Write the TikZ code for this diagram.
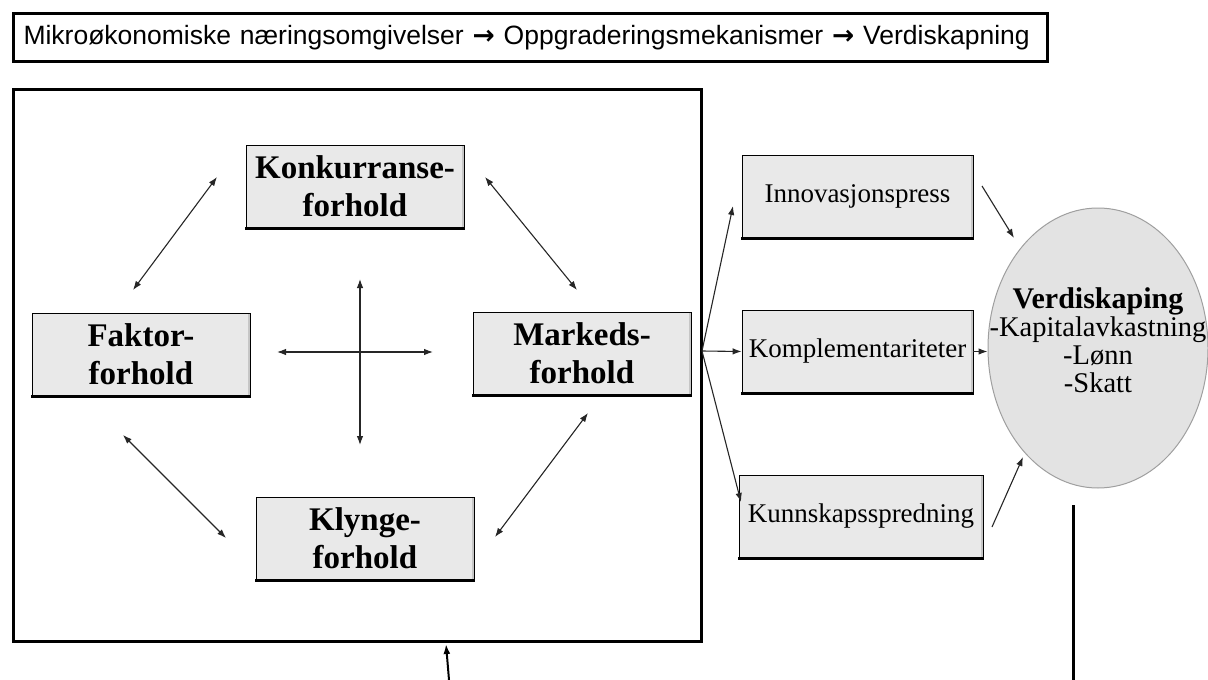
\documentclass[tikz,border=0pt]{standalone}
\usepackage{fontspec}
\setmainfont{Liberation Serif}
\newfontfamily\titlefont{Liberation Sans}
\newfontfamily\arrowfont{DejaVu Sans}
\usetikzlibrary{arrows.meta,shapes.geometric}

\newcommand{\headarrow}{{\arrowfont\bfseries →}}

\tikzset{
  bigbox/.style={draw=black, line width=0.8pt, fill=gray!17, minimum width=218pt,
    minimum height=83pt, align=center, inner sep=0pt,
    font=\fontsize{33}{38}\selectfont\bfseries},
  smallbox/.style={draw=black, line width=0.8pt, fill=gray!17, minimum width=231pt,
    minimum height=83pt, align=center, inner sep=0pt,
    font=\fontsize{27}{30}\selectfont},
  frame/.style={draw=black, line width=3pt, inner sep=0pt},
  link/.style={draw=black!85, line width=1.1pt,
    {Latex[length=9pt,width=6.5pt]}-{Latex[length=9pt,width=6.5pt]}},
  feed/.style={draw=black!85, line width=1.1pt, -{Latex[length=9pt,width=6.5pt]}},
  shadowline/.style={line width=2.6pt, black},
  rimline/.style={line width=2.5pt, gray!45}
}

\begin{document}
\begin{tikzpicture}[x=1pt, y=-1pt]
\useasboundingbox (0,0) rectangle (1208,680);

% heading strip
\node (title) [frame, minimum width=1034pt, minimum height=48pt, anchor=north west,
  text width=1014pt, align=left, font=\titlefont\fontsize{26.5}{28}\selectfont]
  at (12,12) {Mikroøkonomiske næringsomgivelser \headarrow{} Oppgraderingsmekanismer \headarrow{} Verdiskapning};

% outer frame around the four conditions
\node (main) [frame, minimum width=688pt, minimum height=552pt, anchor=north west] at (12,88) {};

% the four conditions
\node (konk)   [bigbox] at (355,186.5) {Konkurranse-\\forhold};
\node (faktor) [bigbox] at (141,354.5) {Faktor-\\forhold};
\node (marked) [bigbox] at (582,353.5) {Markeds-\\forhold};
\node (klynge) [bigbox] at (365,538.5) {Klynge-\\forhold};

% upgrading mechanisms
\node (innov) [smallbox] at (857.5,196.5) {Innovasjonspress};
\node (kompl) [smallbox] at (857.5,351.5) {Komplementariteter};
\node (kunn)  [smallbox, minimum width=244pt] at (861,516.5) {Kunnskapsspredning};

% heavy lower edge and soft right rim on each box
\foreach \b in {konk,faktor,marked,klynge,innov,kompl,kunn}{
  \draw[rimline] ([xshift=-1.6pt,yshift=-1pt]\b.north east) -- ([xshift=-1.6pt,yshift=1pt]\b.south east);
  \draw[shadowline] ([xshift=-0.4pt]\b.south west) -- ([xshift=0.4pt]\b.south east);
}

% value creation
\node (verdi) [ellipse, draw=gray!75, line width=1pt, fill=gray!22,
  minimum width=220pt, minimum height=280pt, inner sep=0pt] at (1098,348) {};
\node (verditext) [align=center, inner sep=0pt, font=\fontsize{28.5}{28}\selectfont] at (1098,340)
  {{\fontsize{30}{28}\selectfont\bfseries Verdiskaping}\\-Kapitalavkastning\\-Lønn\\-Skatt};

% end points of the links inside the frame
\coordinate (k1) at (217,177);  \coordinate (f1) at (133,290);
\coordinate (k2) at (485,177);  \coordinate (m1) at (577,290);
\coordinate (f2) at (123,435);  \coordinate (l1) at (226,538);
\coordinate (m2) at (588,413);  \coordinate (l2) at (495,537);
\coordinate (cl) at (277,352);  \coordinate (cr) at (433,352);
\coordinate (ct) at (360,279);  \coordinate (cb) at (360,445);

\draw[link] (k1) -- (f1);
\draw[link] (k2) -- (m1);
\draw[link] (f2) -- (l1);
\draw[link] (m2) -- (l2);
\draw[link] (cl) -- (cr);
\draw[link] (ct) -- (cb);

% fan from the frame to the mechanisms
\coordinate (fan) at (702,351);
\coordinate (tinnov) at (733,206);
\coordinate (tkunn) at (741,502);
\draw[feed] (fan) -- (tinnov);
\draw[feed] (fan) -- (kompl.west);
\draw[feed] (fan) -- (tkunn);

% mechanisms into value creation
\coordinate (sinnov) at (982,186);  \coordinate (einnov) at (1014,238);
\coordinate (skunn) at (992,527);   \coordinate (ekunn) at (1023,457);
\draw[feed] (sinnov) -- (einnov);
\draw[feed] (kompl.east) -- (kompl.east -| verdi.west);
\draw[feed] (skunn) -- (ekunn);

% return path at the bottom
\coordinate (rstart) at (449,680);
\coordinate (rend) at (446,644);
\draw[line width=2pt, -{Latex[length=10pt,width=7pt]}] (rstart) -- (rend);
\coordinate (vtop) at (1073,505);
\coordinate (vbot) at (1073,680);
\draw[line width=3pt] (vtop) -- (vbot);
\end{tikzpicture}
\end{document}
